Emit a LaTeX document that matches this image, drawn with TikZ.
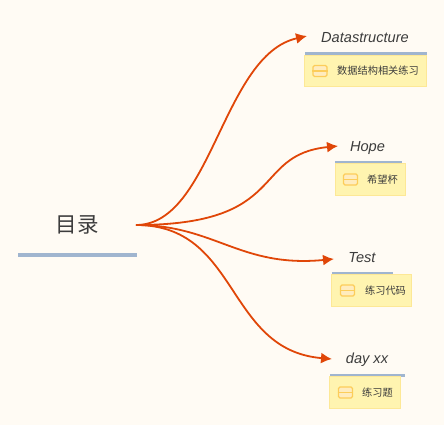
\documentclass[tikz,border=0pt]{standalone}
\usepackage{fontspec}
\setmainfont{Liberation Sans}
\newfontfamily\cjk{Noto Sans CJK SC}
\usetikzlibrary{arrows.meta}
\definecolor{MapPaper}{RGB}{255,251,244}
\definecolor{MapBranch}{RGB}{224,70,8}
\definecolor{MapBar}{RGB}{160,181,207}
\definecolor{MapNote}{RGB}{255,244,176}
\definecolor{MapNoteLine}{RGB}{253,232,150}
\definecolor{MapIcon}{RGB}{255,236,190}
\definecolor{MapIconLine}{RGB}{252,205,90}
\definecolor{MapInk}{RGB}{60,60,60}

\begin{document}
\begin{tikzpicture}[x=1pt,y=-1pt,
   bar/.style n args={2}{fill=MapBar,minimum width=#1pt,minimum height=#2pt,inner sep=0pt,rectangle},
   note/.style n args={2}{fill=MapNote,draw=MapNoteLine,line width=0.8pt,minimum width=#1pt,minimum height=#2pt,inner sep=0pt,rectangle},
   icon/.style={fill=MapIcon,draw=MapIconLine,line width=1.4pt,minimum width=14pt,minimum height=11pt,inner sep=0pt,rounded corners=1.5pt,rectangle},
   title/.style={font=\itshape\fontsize{14.6}{15}\selectfont,text=MapInk,inner sep=0pt},
   notetext/.style={font=\cjk\fontsize{10.2}{11}\selectfont,text=MapInk,inner sep=0pt},
   branch/.style={draw=MapBranch,line width=1.8pt,-{Latex[length=11pt,width=11pt]}}]
\useasboundingbox[fill=MapPaper] (0,0) rectangle (444,425);
\node[font=\cjk\fontsize{21.5}{22}\selectfont,text=MapInk,inner sep=0pt](root) at(77,225) {目录};
\node[bar={119}{4}](rootbar) at(77.5,255) {};
\coordinate (start) at (136,225);
% title, its bar, its note and the icon of each branch
\foreach \n/\t/\tx/\ty/\bx/\bw/\by/\nx/\nw/\ny/\ix/\lx/\l in %
{data/Datastructure/365/37.5/366/122/53.5/365.5/122.5/71/320/378/数据结构相关练习,
 hope/Hope/367.5/147.5/368.5/67/162.5/370.5/70.5/179.5/350.5/382.5/希望杯,
 test/Test/362/258/362.5/61/273.5/371.5/80.5/290.5/347.5/385.5/练习代码,
 day/day xx/367/360/367.5/75/375.5/365/71.5/392.5/345.5/377.5/练习题} {
   \node[title](\n) at(\tx,\ty) {\t};
   \node[bar={\bw}{3}](\n bar) at(\bx,\by) {};
   \node[note={\nw}{31.5}](\n note) at(\nx,\ny) {};
   \node[icon](\n icon) at(\ix,\ny) {};
   \draw[draw=MapIconLine,line width=1.4pt] (\n icon.west) -- (\n icon.east);
   \node[notetext](\n text) at(\lx,\ny) {\l};
}
\coordinate (datatip) at (307,36);
\coordinate (hopetip) at (338,146);
\coordinate (testtip) at (334,259);
\coordinate (daytip) at (332,359);
\draw[branch] (start) .. controls (212,225) and (222,55) .. (datatip);
\draw[branch] (start) .. controls (290,225) and (250,155) .. (hopetip);
\draw[branch] (start) .. controls (215,225) and (240,268) .. (testtip);
\draw[branch] (start) .. controls (240,225) and (225,350) .. (daytip);
\end{tikzpicture}
\end{document}
